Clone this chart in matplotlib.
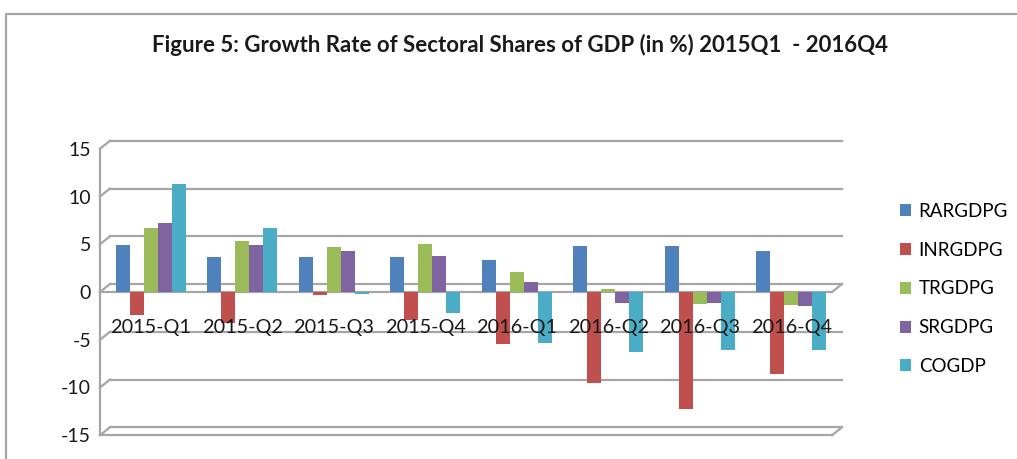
import matplotlib.pyplot as plt
import matplotlib.transforms as mtransforms
from matplotlib.patches import Rectangle
import numpy as np

quarters = ["2015-Q1", "2015-Q2", "2015-Q3", "2015-Q4",
            "2016-Q1", "2016-Q2", "2016-Q3", "2016-Q4"]
rargdpg = [4.9, 3.7, 3.7, 3.7, 3.4, 4.8, 4.8, 4.3]
inrgdpg = [-2.4, -3.2, -0.3, -2.9, -5.4, -9.5, -12.2, -8.6]
trgdpg = [6.7, 5.3, 4.7, 5.0, 2.1, 0.3, -1.3, -1.4]
srgdpg = [7.2, 4.9, 4.3, 3.8, 1.0, -1.2, -1.2, -1.5]
cogdp = [11.3, 6.7, -0.2, -2.2, -5.3, -6.3, -6.1, -6.1]
series_names = ["RARGDPG", "INRGDPG", "TRGDPG", "SRGDPG", "COGDP"]
yticks = [-15, -10, -5, 0, 5, 10, 15]

COLORS = ["#4F81BD", "#C0504D", "#9BBB59", "#8064A2", "#4BACC6"]
GRID = "#A6A6A6"
INK = "#1A1A1A"

plt.rcParams.update({"font.family": ["Lato", "DejaVu Sans"], "font.size": 11,
                     "axes.unicode_minus": False})

W, H = 1017, 459
fig = plt.figure(figsize=(W / 100, H / 100), dpi=100)
ax = fig.add_axes([105 / W, 1 - 435.25 / H, 732 / W, 286.5 / H])

# chart border (cropped on right / bottom like the source)
fig.patches.append(Rectangle((6 / W, -0.2), 1.5, 1.2 - 14 / H,
                             transform=fig.transFigure, fill=False,
                             edgecolor=GRID, lw=1.6))

x = np.arange(len(quarters))
bw = 0.153
data = [rargdpg, inrgdpg, trgdpg, srgdpg, cogdp]
for k, (name, vals) in enumerate(zip(series_names, data)):
    ax.bar(x + (k - 2) * bw, vals, width=bw, color=COLORS[k], label=name,
           zorder=3, edgecolor="none")

ax.set_xlim(-0.5, len(quarters) - 0.5)
ax.set_ylim(-15, 15)
ax.set_yticks(yticks)
ax.set_xticks([])
ax.tick_params(axis="y", length=0, pad=10, labelsize=14, colors=INK)
for s in ax.spines.values():
    s.set_visible(False)
ax.patch.set_alpha(0)

# pseudo-3D wall: back gridlines shifted up/right, front edges shifted left
blend = ax.get_yaxis_transform()
back = blend + mtransforms.ScaledTranslation(5 / 100, 8 / 100, fig.dpi_scale_trans)
front = blend + mtransforms.ScaledTranslation(-5 / 100, 0, fig.dpi_scale_trans)


def diag(xa, v):
    p0 = front.transform((xa, v))
    p1 = back.transform((xa, v))
    fig.add_artist(plt.Line2D([p0[0] / W, p1[0] / W], [p0[1] / H, p1[1] / H],
                              transform=fig.transFigure, color=GRID, lw=1.6))


for v in yticks:
    ax.plot([0, 1], [v, v], transform=back, color=GRID, lw=1.6, zorder=1, clip_on=False)
    diag(0, v)
for v in (0, -15):
    ax.plot([0, 1], [v, v], transform=front, color=GRID, lw=1.6, zorder=2, clip_on=False)
    diag(1, v)
ax.plot([0, 0], [-15, 15], transform=front, color=GRID, lw=1.6, clip_on=False)

# category labels just under the zero line
lab = ax.transData + mtransforms.ScaledTranslation(0, -35 / 100, fig.dpi_scale_trans)
for i, q in enumerate(quarters):
    ax.text(i, 0, q, transform=lab, ha="center", va="center", fontsize=14.3,
            color=INK, zorder=5)

fig.text(520 / W, 1 - 45 / H,
         "Figure 5: Growth Rate of Sectoral Shares of GDP (in %) 2015Q1  - 2016Q4",
         ha="center", va="center", fontsize=16, fontweight="bold", color=INK)

fig.legend(loc="center left", bbox_to_anchor=(900 / W, 1 - 289 / H), frameon=False,
           fontsize=13.5, handlelength=0.6, handleheight=0.6, handletextpad=0.4,
           labelspacing=1.16, borderpad=0, borderaxespad=0)

fig.savefig("out.png", dpi=100)
